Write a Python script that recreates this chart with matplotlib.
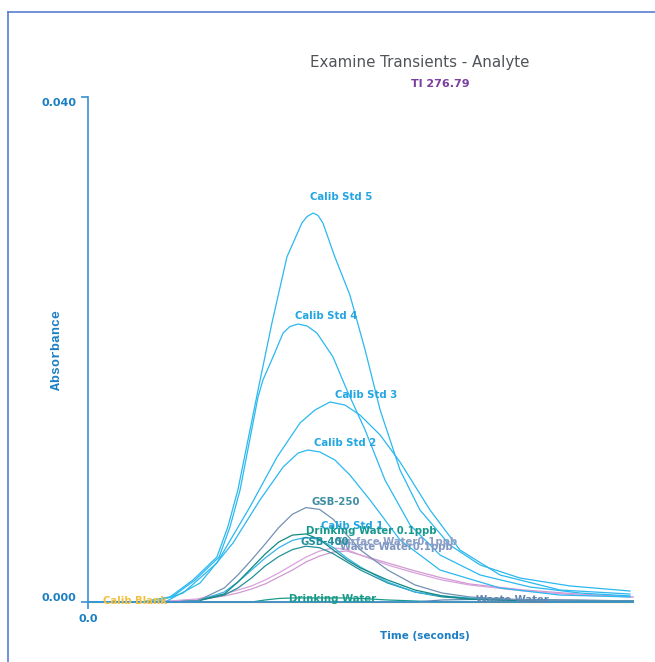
import matplotlib
matplotlib.use("Agg")
import matplotlib.pyplot as plt
from matplotlib.lines import Line2D
from matplotlib.transforms import ScaledTranslation

# ---- data ----
# large standards: own time samples (seconds) and absorbance
std5_t = [0, 1.98, 3.01, 3.85, 4.73, 5.13, 5.50, 6.24, 6.75, 7.30, 7.85, 8.04, 8.26, 8.44, 8.62, 9.06,
          9.61, 10.17, 10.72, 11.45, 12.18, 13.28, 14.39, 15.85, 17.69, 19.89]
std5_a = [0, 0, 0.00040, 0.00174, 0.00356, 0.00594, 0.00887, 0.01679, 0.02210, 0.02733, 0.03002,
          0.03053, 0.03081, 0.03062, 0.03002, 0.02733, 0.02432, 0.01996, 0.01521, 0.01046, 0.00729,
          0.00451, 0.00293, 0.00190, 0.00127, 0.00087]
std4_t = [0, 1.98, 3.08, 3.93, 4.81, 5.21, 5.58, 6.24, 6.42, 6.79, 7.16, 7.41, 7.71, 8.04, 8.40,
          8.99, 9.50, 10.17, 10.90, 11.82, 12.92, 14.39, 16.22, 18.06, 19.89]
std4_a = [0, 0, 0.00040, 0.00174, 0.00356, 0.00594, 0.00887, 0.01624, 0.01758, 0.01941, 0.02131,
          0.02182, 0.02202, 0.02186, 0.02131, 0.01941, 0.01679, 0.01362, 0.00966, 0.00610, 0.00372,
          0.00214, 0.00119, 0.00071, 0.00048]
std3_t = [0, 2.46, 3.49, 4.73, 5.94, 6.94, 7.78, 8.33, 8.88, 9.43, 9.98, 10.72, 11.45, 12.55,
          13.65, 15.12, 17.32, 19.89]
std3_a = [0, 0, 0.00071, 0.00309, 0.00752, 0.01149, 0.01418, 0.01521, 0.01584, 0.01560, 0.01481,
          0.01323, 0.01109, 0.00729, 0.00412, 0.00214, 0.00095, 0.00063]
std2_t = [0, 2.83, 4.11, 5.32, 6.31, 7.16, 7.71, 8.07, 8.51, 9.06, 9.61, 10.35, 11.45, 12.92,
          15.12, 17.32, 19.89]
std2_a = [0, 0, 0.00150, 0.00467, 0.00808, 0.01069, 0.01180, 0.01204, 0.01188, 0.01125, 0.01006,
          0.00808, 0.00491, 0.00253, 0.00111, 0.00055, 0.00040]

# smaller samples on a common time grid
time_s = [0, 2, 3, 4, 5, 5.5, 6, 6.5, 7, 7.5, 8, 8.5, 9, 9.5, 10, 11, 12, 13, 14, 16, 18, 20]
gsb_250 = [0, 0, 0, 0.00008, 0.00111, 0.00214, 0.00333, 0.00459, 0.00590, 0.00695, 0.00748,
           0.00733, 0.00655, 0.00531, 0.00412, 0.00253, 0.00135, 0.00071, 0.00040, 0.00016, 0.00008, 0.00008]
drinking_water_01 = [0, 0, 0, 0.00008, 0.00063, 0.00158, 0.00269, 0.00380, 0.00475, 0.00530, 0.00539,
                     0.00495, 0.00412, 0.00333, 0.00269, 0.00174, 0.00095, 0.00048, 0.00024, 0.00008, 0.00008, 0.00008]
calib_std1 = [0, 0, 0, 0.00008, 0.00079, 0.00158, 0.00253, 0.00348, 0.00430, 0.00488, 0.00512,
              0.00495, 0.00432, 0.00348, 0.00277, 0.00158, 0.00079, 0.00048, 0.00032, 0.00016, 0.00008, 0.00008]
gsb_400 = [0, 0, 0, 0.00008, 0.00055, 0.00111, 0.00190, 0.00285, 0.00360, 0.00415, 0.00442,
           0.00430, 0.00382, 0.00317, 0.00253, 0.00150, 0.00079, 0.00040, 0.00024, 0.00008, 0.00008, 0.00008]
surface_water_01 = [0, 0, 0.00008, 0.00024, 0.00063, 0.00095, 0.00127, 0.00174, 0.00230, 0.00293, 0.00356,
                    0.00404, 0.00428, 0.00415, 0.00372, 0.00293, 0.00230, 0.00174, 0.00135, 0.00087, 0.00055, 0.00040]
waste_water_01 = [0, 0, 0.00008, 0.00016, 0.00048, 0.00071, 0.00103, 0.00143, 0.00198, 0.00253, 0.00317,
                  0.00364, 0.00396, 0.00404, 0.00372, 0.00309, 0.00246, 0.00190, 0.00143, 0.00095, 0.00063, 0.00040]
drinking_water = [0, 0, 0, 0, 0, 0, 0, 0.00016, 0.00028, 0.00032, 0.00032,
                  0.00032, 0.00032, 0.00032, 0.00028, 0.00016, 0.00008, 0, 0, 0, 0, 0]
waste_water = [0, 0, 0, 0, 0, 0, 0, 0, 0, 0, 0,
               0, 0, 0, 0, 0, 0, 0.00016, 0.00020, 0.00020, 0.00016, 0.00008]
calib_blank = [0] * 22

series_names = ["Calib Blank", "Drinking Water", "Waste Water", "Waste Water0.1ppb", "Surface Water0.1ppb",
                "GSB-400", "Calib Std 1", "Drinking Water 0.1ppb", "GSB-250",
                "Calib Std 2", "Calib Std 3", "Calib Std 4", "Calib Std 5"]
series_time = [time_s] * 9 + [std2_t, std3_t, std4_t, std5_t]
series_values = [calib_blank, drinking_water, waste_water, waste_water_01, surface_water_01,
                 gsb_400, calib_std1, drinking_water_01, gsb_250,
                 std2_a, std3_a, std4_a, std5_a]

title = "Examine Transients - Analyte"
subtitle = "Tl 276.79"
y_ticks = [0.0, 0.040]
y_tick_labels = ["0.000", "0.040"]
x_ticks = [0.0]
x_tick_labels = ["0.0"]

# ---- styles ----
line_colors = {
    "Calib Blank": "#f2c040", "Drinking Water": "#1a9a8a", "Waste Water": "#5f86b0",
    "Waste Water0.1ppb": "#cf9ad2", "Surface Water0.1ppb": "#d8a2dc",
    "GSB-400": "#24909a", "Calib Std 1": "#34b4e8", "Drinking Water 0.1ppb": "#12897f",
    "GSB-250": "#7391b3", "Calib Std 2": "#2ab8f0", "Calib Std 3": "#2ab8f0",
    "Calib Std 4": "#2ab8f0", "Calib Std 5": "#2ab8f0",
}
label_colors = {
    "Calib Blank": "#f2c040", "Drinking Water": "#1a9a8a", "Waste Water": "#5f86b0",
    "Waste Water0.1ppb": "#7f96c2", "Surface Water0.1ppb": "#8a9ec6",
    "GSB-400": "#1f8f9c", "Calib Std 1": "#22a6e2", "Drinking Water 0.1ppb": "#16988f",
    "GSB-250": "#3d8ea4", "Calib Std 2": "#22a6e2", "Calib Std 3": "#22a6e2",
    "Calib Std 4": "#22a6e2", "Calib Std 5": "#22a6e2",
}
label_pos = {
    "Calib Std 5": (9.28, 0.03208), "Calib Std 4": (8.73, 0.02265), "Calib Std 3": (10.20, 0.01640),
    "Calib Std 2": (9.43, 0.01259), "GSB-250": (9.10, 0.00792), "Calib Std 1": (9.69, 0.00602),
    "Drinking Water 0.1ppb": (10.39, 0.00562), "Surface Water0.1ppb": (11.32, 0.00475),
    "Waste Water0.1ppb": (11.30, 0.00432), "GSB-400": (8.70, 0.00475),
    "Drinking Water": (8.99, 0.00024), "Waste Water": (15.56, 0.00014), "Calib Blank": (1.72, 0.00008),
}

W, H = 655, 662
fig = plt.figure(figsize=(W / 100, H / 100), dpi=100)
fig.patch.set_facecolor("white")

ax = fig.add_axes([88 / W, (H - 602) / H, (633 - 88) / W, (602 - 97) / H])
for name, t, vals in zip(series_names, series_time, series_values):
    ax.plot(t, vals, color=line_colors[name], lw=0.9, zorder=2, clip_on=False,
            solid_joinstyle="round")

for name in series_names:
    x, y = label_pos[name]
    ax.text(x, y, name, ha="center", va="center", fontsize=7.3, fontweight="bold",
            color=label_colors[name], zorder=4, clip_on=False)

ax.set_xlim(0, 20)
ax.set_ylim(0, 0.040)
axis_blue = "#3a90d0"
text_blue = "#1b7fc4"
for s in ("top", "right"):
    ax.spines[s].set_visible(False)
for s in ("left", "bottom"):
    ax.spines[s].set_color(axis_blue)
    ax.spines[s].set_linewidth(1.2)
    ax.spines[s].set_zorder(3)
ax.set_yticks(y_ticks)
ax.set_yticklabels(y_tick_labels)
ax.set_xticks(x_ticks)
ax.set_xticklabels(x_tick_labels)
ax.tick_params(axis="both", colors=axis_blue, length=5, width=1.2, labelcolor=text_blue,
               labelsize=8)
for lab in ax.get_xticklabels() + ax.get_yticklabels():
    lab.set_fontweight("bold")
# nudge y tick labels as in the reference (bottom one up, top one down)
ylabs = ax.get_yticklabels()
ylabs[0].set_transform(ylabs[0].get_transform() + ScaledTranslation(0, 5 / 100, fig.dpi_scale_trans))
ylabs[1].set_transform(ylabs[1].get_transform() + ScaledTranslation(0, -5 / 100, fig.dpi_scale_trans))

ax.set_ylabel("Absorbance", fontsize=9.5, fontweight="bold", color=text_blue,
              family="Liberation Mono")
ax.yaxis.set_label_coords(-0.046, 0.5)
fig.text(425 / W, 1 - 636 / H, "Time (seconds)", ha="center", va="center", fontsize=7.5,
         fontweight="bold", color=text_blue)

fig.text(420 / W, 1 - 62 / H, title, ha="center", va="center", fontsize=10.8, color="#505458")
fig.text(440 / W, 1 - 84 / H, subtitle, ha="center", va="center", fontsize=8, fontweight="bold",
         color="#7a3fa0")

# outer frame lines
border = "#5a7fd0"
fig.add_artist(Line2D([8 / W, 1.0], [1 - 12 / H, 1 - 12 / H], color=border, lw=1.2,
                      transform=fig.transFigure))
fig.add_artist(Line2D([8 / W, 8 / W], [1 - 12 / H, 0.0], color=border, lw=1.2,
                      transform=fig.transFigure))

fig.savefig("out.png", dpi=100)
